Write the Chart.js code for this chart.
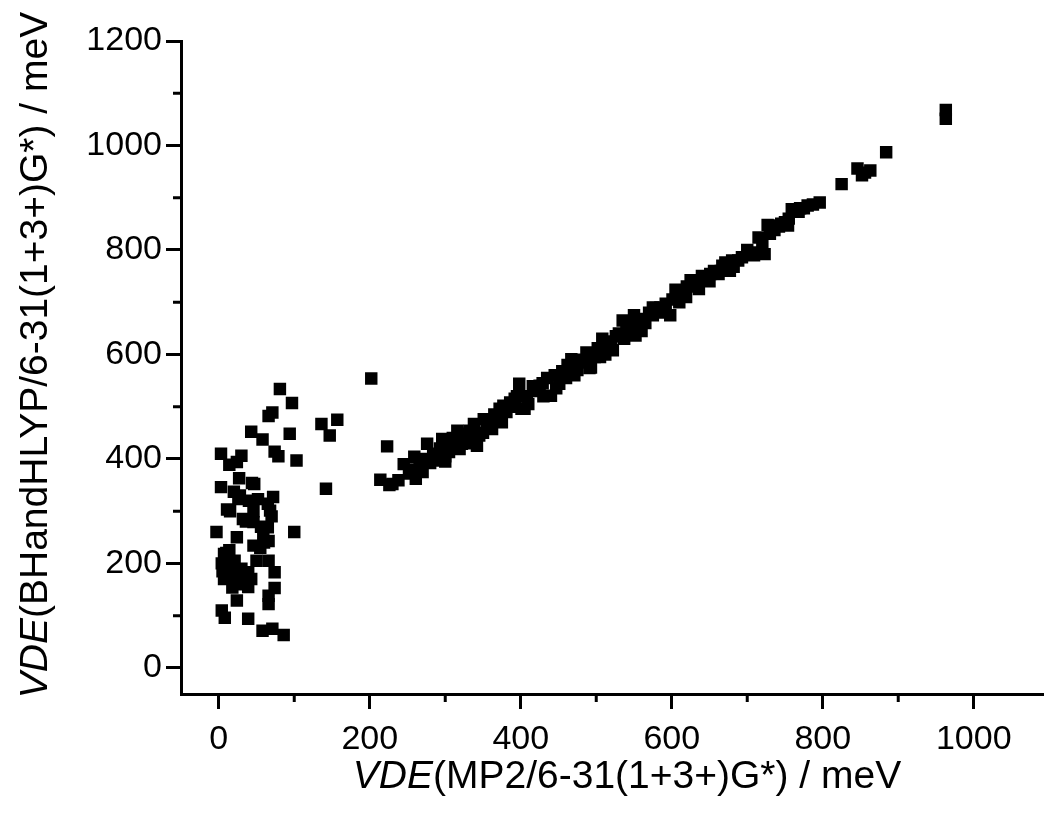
<!DOCTYPE html>
<html>
<head>
<meta charset="utf-8">
<title>VDE scatter</title>
<script src="https://cdn.jsdelivr.net/npm/chart.js@4/dist/chart.umd.min.js"></script>
<style>
  html, body { margin: 0; padding: 0; background: #fff; }
  #wrap { position: relative; width: 1052px; height: 818px; }
</style>
</head>
<body>
<div id="wrap"><canvas id="vdeChart"></canvas></div>
<script>
// VDE values (meV)
var mp2 = [
  81, 97, 71, 66, 43, 94, 58, 74, 79, 3, 30, 14, 24, 103, 27, 44, 47, 3, 20, 26,
  52, 72, 65, 68, 11, 32, 46, 65, 59, -3, 100, 24, 66, 46, 7, 11, 50, 66, 9, 24,
  39, 74, 7, 43, 18, 39, 74, 66, 24, 66, 4, 8, 39, 58, 71, 86,
  4, 14, 20, 30, 56, 60, 36, 15, 5, 55, 28, 40, 12, 33, 70, 21, 46, 15, 10,
  136, 157, 147, 142, 202, 223,
  214, 226, 230, 238, 245, 252, 259, 261, 266, 273, 276, 280, 284, 289, 293, 296, 300, 305, 309, 316,
  319, 322, 328, 332, 338, 342, 345, 351, 355, 362, 368, 372, 377, 381, 386, 392, 398, 401, 405, 408,
  416, 420, 425, 429, 435, 440, 445, 451, 456, 462, 467, 471, 476, 482, 487, 491, 493, 498, 502, 508,
  512, 516, 522, 526, 530, 535, 540, 544, 550, 552, 557, 561, 565, 570, 575, 579, 585, 592, 598, 601,
  605, 609, 614, 619, 625, 630, 636, 640, 645, 651, 656, 662, 667, 671, 677, 682, 688, 693, 702, 709,
  715, 720, 723, 727, 730, 736, 739, 745, 750, 754, 759, 763, 768, 775, 780, 787, 796, 825, 846, 852,
  856, 863, 884, 963, 963,
  300, 310, 335, 350, 360, 375, 390, 410, 430, 447, 460, 475, 490, 505, 520, 537, 548, 560, 575, 590,
  610, 620, 635, 650, 665, 680, 700, 712, 742, 755, 770,
  255, 270, 325, 365, 395, 455, 485
];
var bhandhlyp = [
  534, 507, 489, 482, 452, 448, 437, 414, 405, 410, 406, 389, 394, 397, 363, 354, 352, 346, 337, 323,
  323, 327, 314, 301, 303, 285, 279, 269, 255, 260, 260, 250, 243, 234, 218, 209, 205, 205, 192, 183,
  183, 183, 170, 170, 154, 155, 153, 138, 129, 122, 110, 96, 94, 71, 75, 63,
  200, 225, 175, 190, 270, 240, 280, 180, 185, 230, 330, 320, 215, 160, 290, 205, 300, 300, 220,
  467, 475, 445, 343, 554, 424,
  360, 350, 352, 359, 390, 372, 404, 362, 385, 400, 429, 392, 410, 397, 420, 438, 405, 413, 430, 454,
  419, 429, 440, 454, 467, 425, 445, 476, 460, 457, 480, 496, 502, 490, 508, 515, 544, 496, 496, 520,
  539, 530, 540, 545, 555, 521, 560, 544, 565, 580, 591, 560, 585, 590, 604, 574, 575, 595, 612, 630,
  600, 620, 608, 635, 640, 665, 650, 645, 675, 636, 655, 668, 660, 680, 675, 689, 690, 697, 675, 705,
  724, 719, 712, 710, 742, 735, 725, 750, 745, 754, 760, 754, 770, 776, 760, 768, 780, 786, 791, 790,
  824, 815, 792, 848, 831, 838, 847, 850, 853, 847, 878, 877, 873, 880, 885, 887, 891, 926, 956, 943,
  948, 952, 987, 1051, 1068,
  395, 440, 430, 450, 475, 470, 500, 505, 520, 535, 555, 570, 590, 595, 625, 630, 660, 645, 690, 680,
  700, 730, 740, 740, 760, 780, 800, 795, 845, 860, 880,
  380, 375, 448, 485, 520, 568, 585
];

var xMajor = [0, 200, 400, 600, 800, 1000];
var xMinor = [100, 300, 500, 700, 900];
var yMajor = [0, 200, 400, 600, 800, 1000, 1200];
var yMinor = [100, 300, 500, 700, 900, 1100];

var xTitle = ['VDE', '(MP2/6-31(1+3+)G*) / meV'];
var yTitle = ['VDE', '(BHandHLYP/6-31(1+3+)G*) / meV'];

var FONT = "'Liberation Sans', Arial, Helvetica, sans-serif";

var points = mp2.map(function (x, i) { return { x: x, y: bhandhlyp[i] }; });

// minor ticks + mixed italic axis titles
var axisExtras = {
  id: 'axisExtras',
  afterDraw: function (chart) {
    var ctx = chart.ctx;
    var xs = chart.scales.x, ys = chart.scales.y;
    var area = chart.chartArea;
    ctx.save();
    ctx.strokeStyle = '#000';
    ctx.lineWidth = 3;
    ctx.beginPath();
    xMinor.forEach(function (v) {
      var px = xs.getPixelForValue(v);
      ctx.moveTo(px, area.bottom);
      ctx.lineTo(px, area.bottom + 8);
    });
    yMinor.forEach(function (v) {
      var py = ys.getPixelForValue(v);
      ctx.moveTo(area.left, py);
      ctx.lineTo(area.left - 8, py);
    });
    ctx.stroke();

    function mixed(parts, cx, cy, rot) {
      ctx.save();
      ctx.translate(cx, cy);
      ctx.rotate(rot);
      ctx.fillStyle = '#000';
      ctx.textBaseline = 'middle';
      ctx.textAlign = 'left';
      var fi = 'italic 39px ' + FONT, fn = '39px ' + FONT;
      ctx.font = fi;
      var w1 = ctx.measureText(parts[0]).width;
      ctx.font = fn;
      var w2 = ctx.measureText(parts[1]).width;
      var x0 = -(w1 + w2) / 2;
      ctx.font = fi;
      ctx.fillText(parts[0], x0, 0);
      ctx.font = fn;
      ctx.fillText(parts[1], x0 + w1, 0);
      ctx.restore();
    }
    mixed(xTitle, 627, 777, 0);
    mixed(yTitle, 36, 355, -Math.PI / 2);
    ctx.restore();
  }
};

function plain(v) { return String(v); }

new Chart(document.getElementById('vdeChart').getContext('2d'), {
  type: 'scatter',
  data: {
    datasets: [{
      data: points,
      pointStyle: 'rect',
      pointRadius: 8.8,
      pointHoverRadius: 8.8,
      backgroundColor: '#000',
      borderColor: '#000',
      borderWidth: 0
    }]
  },
  options: {
    responsive: true,
    maintainAspectRatio: false,
    animation: false,
    layout: { padding: { left: 0, top: 41, right: -9, bottom: 0 } },
    plugins: {
      legend: { display: false },
      tooltip: { enabled: false }
    },
    scales: {
      x: {
        type: 'linear',
        min: -50,
        max: 1092,
        afterBuildTicks: function (s) { s.ticks = xMajor.map(function (v) { return { value: v }; }); },
        afterFit: function (s) { s.height = 124; s.paddingLeft = 0; s.paddingRight = 0; },
        ticks: { color: '#000', padding: 10, maxRotation: 0, callback: plain, font: { family: FONT, size: 34 } },
        grid: { display: true, drawOnChartArea: false, drawTicks: true, tickLength: 15, tickWidth: 3, tickColor: '#000' },
        border: { display: true, color: '#000', width: 3 }
      },
      y: {
        type: 'linear',
        min: -50,
        max: 1200,
        afterBuildTicks: function (s) { s.ticks = yMajor.map(function (v) { return { value: v }; }); },
        afterFit: function (s) { s.width = 181; },
        ticks: { color: '#000', padding: 4, callback: plain, font: { family: FONT, size: 34 } },
        grid: { display: true, drawOnChartArea: false, drawTicks: true, tickLength: 15, tickWidth: 3, tickColor: '#000' },
        border: { display: true, color: '#000', width: 3 }
      }
    }
  },
  plugins: [axisExtras]
});
</script>
</body>
</html>
